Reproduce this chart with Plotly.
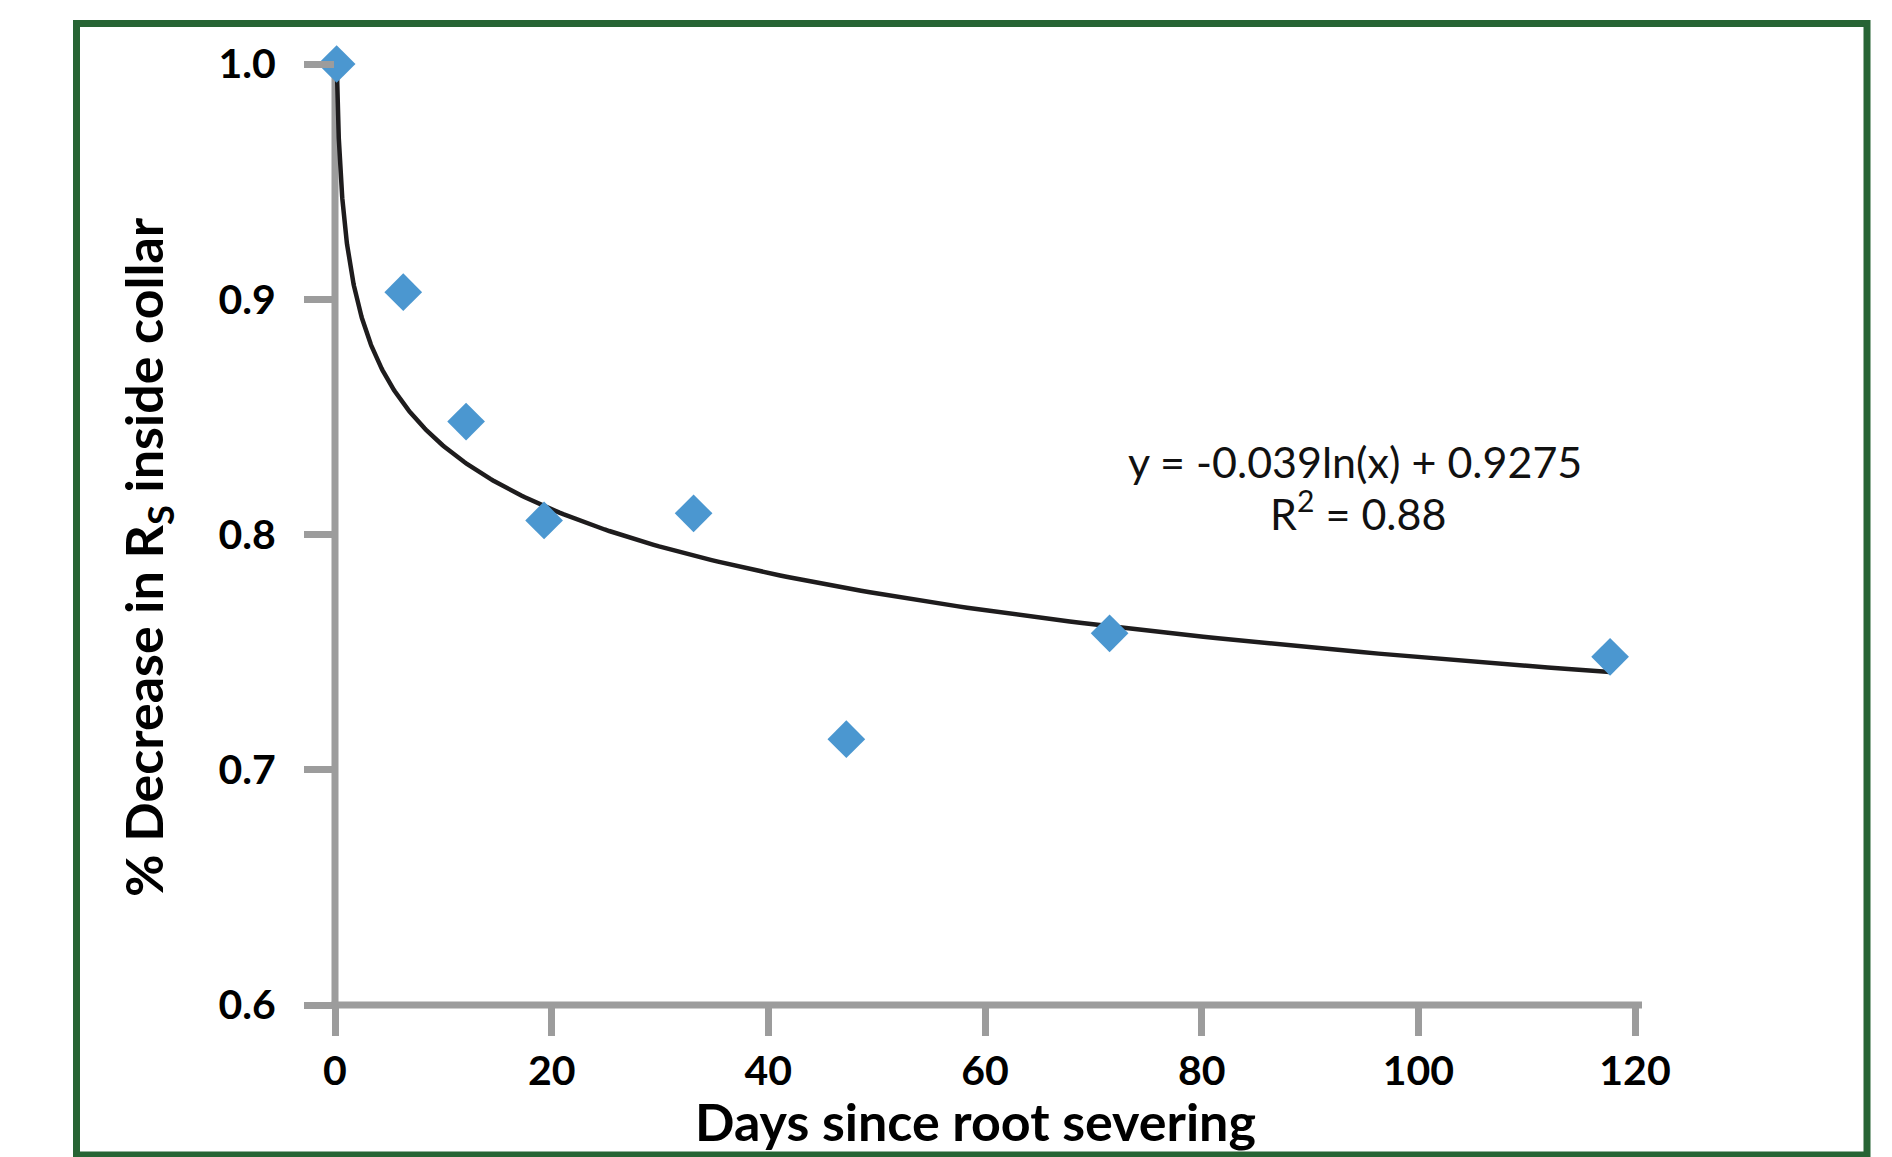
import numpy as np
import plotly.graph_objects as go

# ---- data ----
days = [0.15, 6.3, 12.1, 19.3, 33.1, 47.2, 71.5, 117.7]
rs_fraction = [1.0, 0.903, 0.848, 0.806, 0.809, 0.713, 0.758, 0.748]

# trendline coefficients as printed on the chart: y = a*ln(x) + b
trend_a = -0.039
trend_b = 0.9275
trend_r2 = 0.88

x_ticks = [0, 20, 40, 60, 80, 100, 120]
y_ticks = [0.6, 0.7, 0.8, 0.9, 1.0]
x_range = [0, 120]
y_range = [0.6, 1.0]

# ---- layout geometry (page pixels); the page body adds an 8 px margin ----
W, H = 1892, 1157
OFF = 8
L, R, T, B = 335 - OFF, 1635 - OFF, 64 - OFF, 1005 - OFF

FONT = "Lato"
AXIS_GRAY = "#9c9c9c"
GREEN = "#276434"
AXIS_W = 7

trend_x = np.geomspace(min(days), max(days), 400)
trend_y = trend_a * np.log(trend_x) + trend_b

fig = go.Figure()
fig.add_trace(go.Scatter(
    x=trend_x, y=trend_y, mode="lines",
    line=dict(color="#1e1c1d", width=4.5),
    showlegend=False, hoverinfo="skip", cliponaxis=False,
))
fig.add_trace(go.Scatter(
    x=days, y=rs_fraction, mode="markers",
    marker=dict(symbol="diamond", size=29, color="#4b97d0", line=dict(width=0)),
    showlegend=False, cliponaxis=False,
))


def px_x(px):
    """page pixel -> paper x"""
    return (px - OFF - L) / (R - L)


def px_y(py):
    """page pixel -> paper y"""
    return (B - (py - OFF)) / (B - T)


# outer green frame
fig.add_shape(
    type="rect", xref="paper", yref="paper",
    x0=px_x(76.5), x1=px_x(1867),
    y0=px_y(1155), y1=px_y(23.5),
    line=dict(color=GREEN, width=7), layer="below",
)
# axis lines, centred on x = 0 and y = 0.6 (paper refs so they are not clipped)
fig.add_shape(type="line", xref="paper", yref="paper",
              x0=0, x1=0, y0=px_y(1005 + AXIS_W / 2), y1=1,
              line=dict(color=AXIS_GRAY, width=AXIS_W), layer="below")
fig.add_shape(type="line", xref="paper", yref="paper",
              x0=px_x(335 - AXIS_W / 2), x1=px_x(1642), y0=0, y1=0,
              line=dict(color=AXIS_GRAY, width=AXIS_W), layer="below")

fig.add_annotation(
    text="y = -0.039ln(x) + 0.9275",
    x=px_x(1355), y=px_y(461), xref="paper", yref="paper",
    xanchor="center", yanchor="middle", showarrow=False,
    font=dict(family=FONT, size=43, color="#111111"),
)
fig.add_annotation(
    text="R<sup>2</sup> = 0.88",
    x=px_x(1358), y=px_y(510), xref="paper", yref="paper",
    xanchor="center", yanchor="middle", showarrow=False,
    font=dict(family=FONT, size=43, color="#111111"),
)
# axis titles
fig.add_annotation(
    text="% Decrease in R<sub>S</sub> inside collar",
    x=px_x(147), y=px_y(557), xref="paper", yref="paper",
    xanchor="center", yanchor="middle", showarrow=False, textangle=-90,
    font=dict(family=FONT, size=52, color="#000000", weight="bold"),
)
fig.add_annotation(
    text="Days since root severing",
    x=px_x(975), y=px_y(1121), xref="paper", yref="paper",
    xanchor="center", yanchor="middle", showarrow=False,
    font=dict(family=FONT, size=52, color="#000000", weight="bold"),
)

axis_common = dict(
    showline=False,
    ticks="outside", ticklen=30, tickwidth=AXIS_W, tickcolor=AXIS_GRAY,
    showgrid=False, zeroline=False,
    tickfont=dict(family=FONT, size=41, color="#000000", weight="bold"),
)

fig.update_xaxes(
    range=x_range, tickvals=x_ticks, ticktext=[str(v) for v in x_ticks],
    ticklabelstandoff=0,
    **axis_common,
)
fig.update_yaxes(
    range=y_range, tickvals=y_ticks, ticktext=[f"{v:.1f}" for v in y_ticks],
    ticklabelstandoff=20,
    **axis_common,
)

fig.update_layout(
    width=W, height=H, autosize=False,
    margin=dict(l=L, r=W - R, t=T, b=H - B, pad=0),
    plot_bgcolor="white", paper_bgcolor="white",
)

fig.write_html("out.html")
